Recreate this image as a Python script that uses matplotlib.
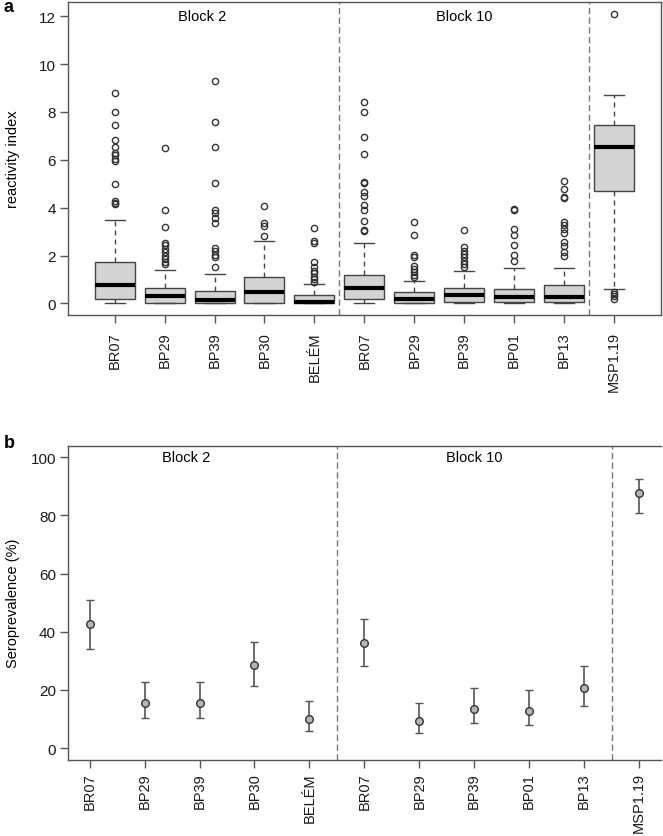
import numpy as np
import matplotlib.pyplot as plt

plt.rcParams['font.family'] = ['Liberation Sans', 'DejaVu Sans']

# antigen labels (same order in both panels)
labels = ['BR07', 'BP29', 'BP39', 'BP30', 'BELÉM',
          'BR07', 'BP29', 'BP39', 'BP01', 'BP13', 'MSP1.19']

# panel a: box statistics of reactivity index
q1 = [0.20, 0.00, 0.00, 0.00, 0.00, 0.20, 0.02, 0.04, 0.04, 0.07, 4.69]
med = [0.76, 0.31, 0.14, 0.49, 0.06, 0.66, 0.17, 0.34, 0.25, 0.28, 6.53]
q3 = [1.73, 0.64, 0.52, 1.09, 0.34, 1.18, 0.46, 0.64, 0.62, 0.78, 7.44]
whislo = [0.00, 0.00, 0.00, 0.00, 0.00, 0.00, 0.00, 0.00, 0.00, 0.00, 0.61]
whishi = [3.47, 1.40, 1.22, 2.59, 0.80, 2.53, 0.92, 1.37, 1.47, 1.47, 8.71]
fliers = [
    [8.78, 7.99, 7.46, 6.83, 6.55, 6.29, 6.22, 6.04, 5.97, 4.97, 4.27, 4.20, 4.15],
    [6.48, 3.90, 3.19, 2.52, 2.42, 2.27, 2.13, 1.99, 1.86, 1.75, 1.66],
    [9.31, 7.58, 6.55, 5.03, 3.92, 3.78, 3.57, 3.38, 2.31, 2.17, 2.03, 1.93, 1.54],
    [4.08, 3.38, 3.22, 2.80],
    [3.13, 2.60, 2.52, 1.72, 1.51, 1.37, 1.26, 1.12, 1.01, 0.88],
    [8.40, 7.99, 6.96, 6.25, 5.09, 5.03, 4.66, 4.47, 4.12, 3.89, 3.44, 3.08, 3.01],
    [3.41, 2.87, 2.04, 1.94, 1.55, 1.44, 1.33, 1.20, 1.12],
    [3.05, 2.35, 2.21, 2.07, 1.93, 1.79, 1.65, 1.54],
    [3.96, 3.89, 3.10, 2.87, 2.45, 2.01, 1.77],
    [5.11, 4.76, 4.45, 4.39, 3.41, 3.27, 3.10, 2.94, 2.57, 2.38, 2.13, 1.96],
    [12.11, 0.47, 0.38, 0.30, 0.17],
]

# panel b: seroprevalence (%) with 95% CI
sero = [42.6, 15.6, 15.6, 28.4, 10.0, 36.3, 9.3, 13.6, 12.9, 20.6, 87.9]
sero_lo = [34.2, 10.2, 10.2, 21.3, 5.7, 28.2, 5.3, 8.5, 7.9, 14.4, 81.0]
sero_hi = [50.9, 22.7, 22.7, 36.6, 16.3, 44.5, 15.6, 20.7, 19.8, 28.2, 92.5]

blocks = ['Block 2', 'Block 10']
block_pos = [2.75, 8]
separators = [5.5, 10.5]

frame_col = '#555555'
pos = np.arange(1, len(labels) + 1)

fig = plt.figure(figsize=(6.63, 8.37), dpi=100)
ax1 = fig.add_axes([0.1021, 0.6225, 0.8949, 0.3736])
ax2 = fig.add_axes([0.1021, 0.0912, 0.8949, 0.3751])


def style_axes(ax, xpad):
    for s in ax.spines.values():
        s.set_color(frame_col)
        s.set_linewidth(1.0)
    ax.tick_params(axis='both', length=5.5, width=1.0, color=frame_col,
                   labelsize=10.5, labelcolor='#1a1a1a')
    ax.tick_params(axis='y', labelsize=11, pad=3)
    ax.tick_params(axis='x', pad=xpad)
    ax.set_xticks(pos)
    ax.set_xticklabels(labels, rotation=90, va='top')
    for x in separators:
        ax.axvline(x, color='#777777', lw=1.0, ls=(0, (4.5, 2.5)), zorder=0)


# --- panel a
stats = []
for i in range(len(labels)):
    stats.append(dict(med=med[i], q1=q1[i], q3=q3[i], whislo=whislo[i],
                      whishi=whishi[i], fliers=fliers[i]))

ax1.bxp(stats, positions=pos, widths=0.8, patch_artist=True,
        boxprops=dict(facecolor='#d3d3d3', edgecolor='#444444', linewidth=1.0),
        medianprops=dict(color='black', linewidth=3.0, solid_capstyle='butt'),
        whiskerprops=dict(color='#444444', linewidth=1.0, linestyle=(0, (3.5, 3))),
        capprops=dict(color='#444444', linewidth=1.0),
        flierprops=dict(marker='o', markerfacecolor='none', markeredgecolor='#333333',
                        markersize=4.5, markeredgewidth=1.0))
ax1.set_xlim(0.06, 11.94)
ax1.set_ylim(-0.484, 12.584)
ax1.set_yticks(np.arange(0, 13, 2))
style_axes(ax1, 6)
ax1.set_ylabel('reactivity index', fontsize=10.5)
ax1.yaxis.set_label_coords(-0.080, 0.5)
for name, x in zip(blocks, block_pos):
    ax1.text(x, 12, name, ha='center', va='center', fontsize=10.5)

# --- panel b
yerr = [np.array(sero) - np.array(sero_lo), np.array(sero_hi) - np.array(sero)]
ax2.errorbar(pos, sero, yerr=yerr, fmt='o', color='#555555', ecolor='#555555',
             elinewidth=1.2, capsize=2.8, capthick=1.0,
             markerfacecolor='#b5b5b5', markeredgecolor='#333333',
             markersize=5.5, markeredgewidth=1.0)
ax2.set_xlim(0.6, 11.4)
ax2.set_ylim(-4, 104)
ax2.set_yticks(np.arange(0, 101, 20))
style_axes(ax2, 3.5)
ax2.spines['right'].set_visible(False)
ax2.set_ylabel('Seroprevalence (%)', fontsize=10.5)
ax2.yaxis.set_label_coords(-0.080, 0.5)
for name, x in zip(blocks, block_pos):
    ax2.text(x, 100, name, ha='center', va='center', fontsize=10.5)

fig.text(9 / 663, 1 - 7 / 837, 'a', fontsize=13, fontweight='bold',
         ha='center', va='center')
fig.text(9 / 663, 1 - 444 / 837, 'b', fontsize=13, fontweight='bold',
         ha='center', va='center')

fig.savefig('out.png', dpi=100)
